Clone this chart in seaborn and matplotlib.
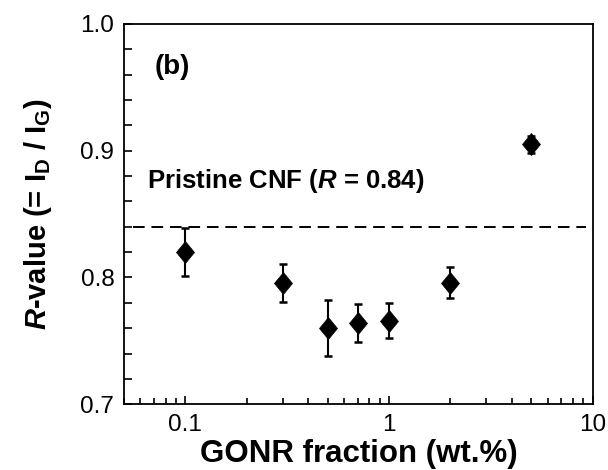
import numpy as np
import pandas as pd
import seaborn as sns
import matplotlib.pyplot as plt
from matplotlib.ticker import MultipleLocator, LogLocator, NullFormatter

# GONR fraction (wt.%) vs Raman R-value
gonr_frac = [0.1, 0.3, 0.5, 0.7, 1.0, 2.0, 5.0]
r_value = [0.820, 0.796, 0.760, 0.764, 0.766, 0.796, 0.905]
r_err = [0.019, 0.015, 0.022, 0.015, 0.014, 0.012, 0.007]
pristine_r = 0.84

sns.set_style('ticks', {'axes.edgecolor': 'black', 'text.color': 'black',
                        'axes.labelcolor': 'black', 'xtick.color': 'black',
                        'ytick.color': 'black'})
plt.rcParams['font.family'] = ['Liberation Sans', 'DejaVu Sans']
plt.rcParams['mathtext.fontset'] = 'custom'
plt.rcParams['mathtext.rm'] = 'Liberation Sans:bold'
plt.rcParams['mathtext.it'] = 'Liberation Sans:italic:bold'
plt.rcParams['mathtext.bf'] = 'Liberation Sans:bold'

df = pd.DataFrame({'frac': gonr_frac, 'R': r_value, 'err': r_err})

fig = plt.figure(figsize=(6.08, 4.70), dpi=100)
ax = fig.add_axes([0.204, 0.140, 0.771, 0.809])

# error bars first, markers on top
ax.errorbar(df['frac'], df['R'], yerr=df['err'], fmt='none', ecolor='black',
            elinewidth=1.5, capsize=3, capthick=1.8, zorder=2)
diamond = [(0, 1), (0.82, 0), (0, -1), (-0.82, 0), (0, 1)]
sns.scatterplot(data=df, x='frac', y='R', marker=diamond, s=250, color='black',
                edgecolor='black', linewidth=0.5, ax=ax, zorder=3)

ax.axhline(pristine_r, xmin=0.02, xmax=0.985, color='black', lw=1.4, ls=(0, (6, 3.5)))

ax.set_xscale('log')
ax.set_xlim(0.05, 10)
ax.set_ylim(0.7, 1.0)
ax.set_xticks([0.1, 1, 10], labels=['0.1', '1', '10'])
ax.xaxis.set_minor_locator(LogLocator(base=10, subs=np.arange(2, 10)))
ax.xaxis.set_minor_formatter(NullFormatter())
ax.set_yticks([0.7, 0.8, 0.9, 1.0], labels=['0.7', '0.8', '0.9', '1.0'])
ax.yaxis.set_minor_locator(MultipleLocator(0.02))

ax.tick_params(which='both', direction='in', labelsize=17.5, width=1.2, pad=7,
               color='black', labelcolor='black')
ax.tick_params(which='major', length=6)
ax.tick_params(which='minor', length=4)
ax.tick_params(axis='y', which='minor', length=6)
for s in ax.spines.values():
    s.set_linewidth(1.3)
    s.set_color('black')

ax.set_xlabel('GONR fraction (wt.%)', fontsize=22.5, fontweight='bold', labelpad=2,
              color='black')
ax.set_ylabel(r'$\mathit{R}$-value (= I$_\mathrm{D}$ / I$_\mathrm{G}$)', fontsize=21,
              fontweight='bold', labelpad=19, color='black')

ax.text(0.0705, 0.966, '(b)', fontsize=20, fontweight='bold', va='center', ha='left',
        color='black')
ax.text(0.065, 0.876, r'Pristine CNF ($\mathit{R}$ = 0.84)', fontsize=18.5,
        fontweight='bold', va='center', ha='left', color='black')

fig.savefig('out.png', dpi=100)
